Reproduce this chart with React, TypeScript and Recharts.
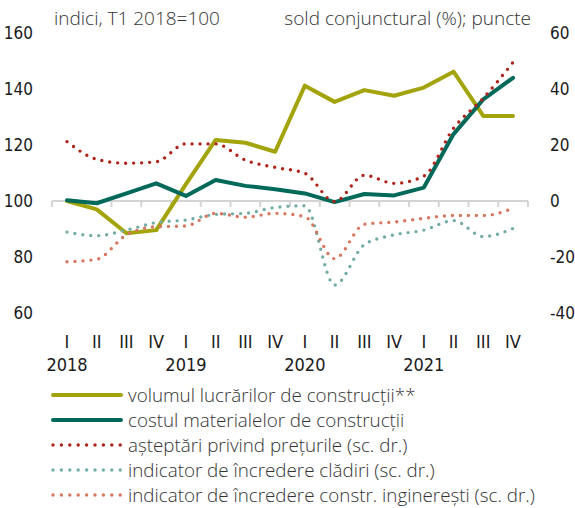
import { LineChart, Line, XAxis, YAxis, ReferenceLine } from "recharts";

const quarters = ["I", "II", "III", "IV", "I", "II", "III", "IV", "I", "II", "III", "IV", "I", "II", "III", "IV"];
const years = ["2018", "", "", "", "2019", "", "", "", "2020", "", "", "", "2021", "", "", ""];

// left axis (indici, T1 2018=100)
const volum = [100, 97, 88.5, 89.6, 106, 121.8, 120.8, 117.6, 141.2, 135.4, 139.6, 137.6, 140.5, 146.2, 130.4, 130.4];
const costul = [100.3, 99.2, 102.7, 106.3, 101.8, 107.5, 105.4, 104.2, 102.7, 99.6, 102.5, 102.0, 104.8, 123.9, 136.3, 144.0];

// right axis (sold conjunctural)
const asteptari = [21.2, 14.9, 13.5, 14.0, 20.4, 20.4, 14.6, 12.0, 9.9, -0.2, 9.2, 6.3, 8.9, 26.0, 36.7, 49.5];
const cladiri = [-11.1, -12.4, -10.4, -7.7, -6.8, -4.8, -4.4, -2.3, -1.7, -30, -15.6, -12.1, -10.4, -7.0, -12.7, -9.8];
const ingineresti = [-21.7, -20.8, -12.1, -9.2, -8.9, -4.4, -5.8, -4.4, -5.6, -20.6, -8.3, -7.5, -6.2, -5.2, -5.2, -2.6];

const leftTicks = [60, 80, 100, 120, 140, 160];
const rightTicks = [-40, -20, 0, 20, 40, 60];

const series = [
  { key: "volum", name: "volumul lucrărilor de construcții**", color: "#a3a30c", dotted: false, axis: "l" },
  { key: "costul", name: "costul materialelor de construcții", color: "#00695a", dotted: false, axis: "l" },
  { key: "asteptari", name: "așteptări privind prețurile (sc. dr.)", color: "#ad241b", dotted: true, axis: "r" },
  { key: "cladiri", name: "indicator de încredere clădiri (sc. dr.)", color: "#72aea5", dotted: true, axis: "r" },
  { key: "ingineresti", name: "indicator de încredere constr. inginerești (sc. dr.)", color: "#d8765f", dotted: true, axis: "r" },
];

const data = quarters.map((q, i) => ({
  q: `${q}-${i}`,
  volum: volum[i],
  costul: costul[i],
  asteptari: asteptari[i],
  cladiri: cladiri[i],
  ingineresti: ingineresti[i],
}));

const narrow = "'Liberation Sans Narrow', 'DejaVu Sans Condensed', sans-serif";
const sans = "'Open Sans', 'Noto Sans', sans-serif";

const QuarterTick = (props: any) => {
  const { x, y, index } = props;
  return (
    <g>
      <text x={x} y={y + 35} textAnchor="middle" fontFamily={narrow} fontSize={18} fill="#1a1a1a">
        {quarters[index]}
      </text>
      {years[index] && (
        <text x={x} y={y + 58} textAnchor="middle" fontFamily={narrow} fontSize={18} fill="#1a1a1a">
          {years[index]}
        </text>
      )}
    </g>
  );
};

const BaseLine = (props: any) => {
  const { x1, x2, y1 } = props;
  const step = (x2 - x1) / quarters.length;
  return (
    <g>
      <line x1={x1} x2={x2} y1={y1} y2={y1} stroke="#d4d4d4" strokeWidth={2} />
      {quarters.map((_, i) => (
        <line key={i} x1={x1 + i * step} x2={x1 + i * step} y1={y1} y2={y1 + 6} stroke="#d4d4d4" strokeWidth={2} />
      ))}
      <line x1={x2} x2={x2} y1={y1} y2={y1 + 6} stroke="#d4d4d4" strokeWidth={2} />
    </g>
  );
};

export default function App() {
  return (
    <div style={{ position: "absolute", left: 0, top: 0, width: 575, height: 508, background: "#fff" }}>
      <div style={{ position: "absolute", left: 54, top: 5, fontFamily: sans, fontSize: 19, fontWeight: 300, color: "#333" }}>
        indici, T1 2018=100
      </div>
      <div style={{ position: "absolute", right: 44, top: 5, fontFamily: sans, fontSize: 19, fontWeight: 300, color: "#333" }}>
        sold conjunctural (%); puncte
      </div>
      <LineChart width={575} height={380} data={data} margin={{ top: 33, right: 7, bottom: 7, left: 12 }}>
        <XAxis
          dataKey="q"
          axisLine={false}
          tickLine={false}
          tickSize={0}
          tickMargin={0}
          height={60}
          interval={0}
          padding={{ left: 15, right: 15 }}
          tick={<QuarterTick />}
        />
        <YAxis
          yAxisId="l"
          domain={[60, 160]}
          ticks={leftTicks}
          width={40}
          axisLine={false}
          tickLine={false}
          tickSize={0}
          tickMargin={19}
          tick={{ fontFamily: narrow, fontSize: 17, fill: "#1a1a1a" }}
        />
        <YAxis
          yAxisId="r"
          orientation="right"
          domain={[-40, 60]}
          ticks={rightTicks}
          width={40}
          axisLine={false}
          tickLine={false}
          tickSize={0}
          tickMargin={22}
          tick={{ fontFamily: narrow, fontSize: 17, fill: "#1a1a1a", textAnchor: "start" }}
        />
        <ReferenceLine yAxisId="l" y={100} shape={<BaseLine />} />
        {series.map((s) => (
          <Line
            key={s.key}
            yAxisId={s.axis}
            dataKey={s.key}
            name={s.name}
            type={s.dotted ? "monotone" : "linear"}
            stroke={s.color}
            strokeWidth={s.dotted ? 3.4 : 4}
            strokeDasharray={s.dotted ? "0 8" : undefined}
            strokeLinecap="round"
            strokeLinejoin="round"
            dot={false}
            activeDot={false}
            isAnimationActive={false}
          />
        ))}
      </LineChart>
      <div style={{ position: "absolute", left: 51, top: 382 }}>
        {series.map((s) => (
          <div key={s.key} style={{ display: "flex", alignItems: "center", height: 25.2 }}>
            <svg width={72} height={8} style={{ marginRight: 5 }}>
              <line
                x1={2}
                x2={70}
                y1={4}
                y2={4}
                stroke={s.color}
                strokeWidth={s.dotted ? 3.4 : 4}
                strokeDasharray={s.dotted ? "0 8.4" : undefined}
                strokeLinecap="round"
              />
            </svg>
            <span style={{ fontFamily: sans, fontSize: 18.8, fontWeight: 300, color: "#333", whiteSpace: "nowrap" }}>{s.name}</span>
          </div>
        ))}
      </div>
    </div>
  );
}
